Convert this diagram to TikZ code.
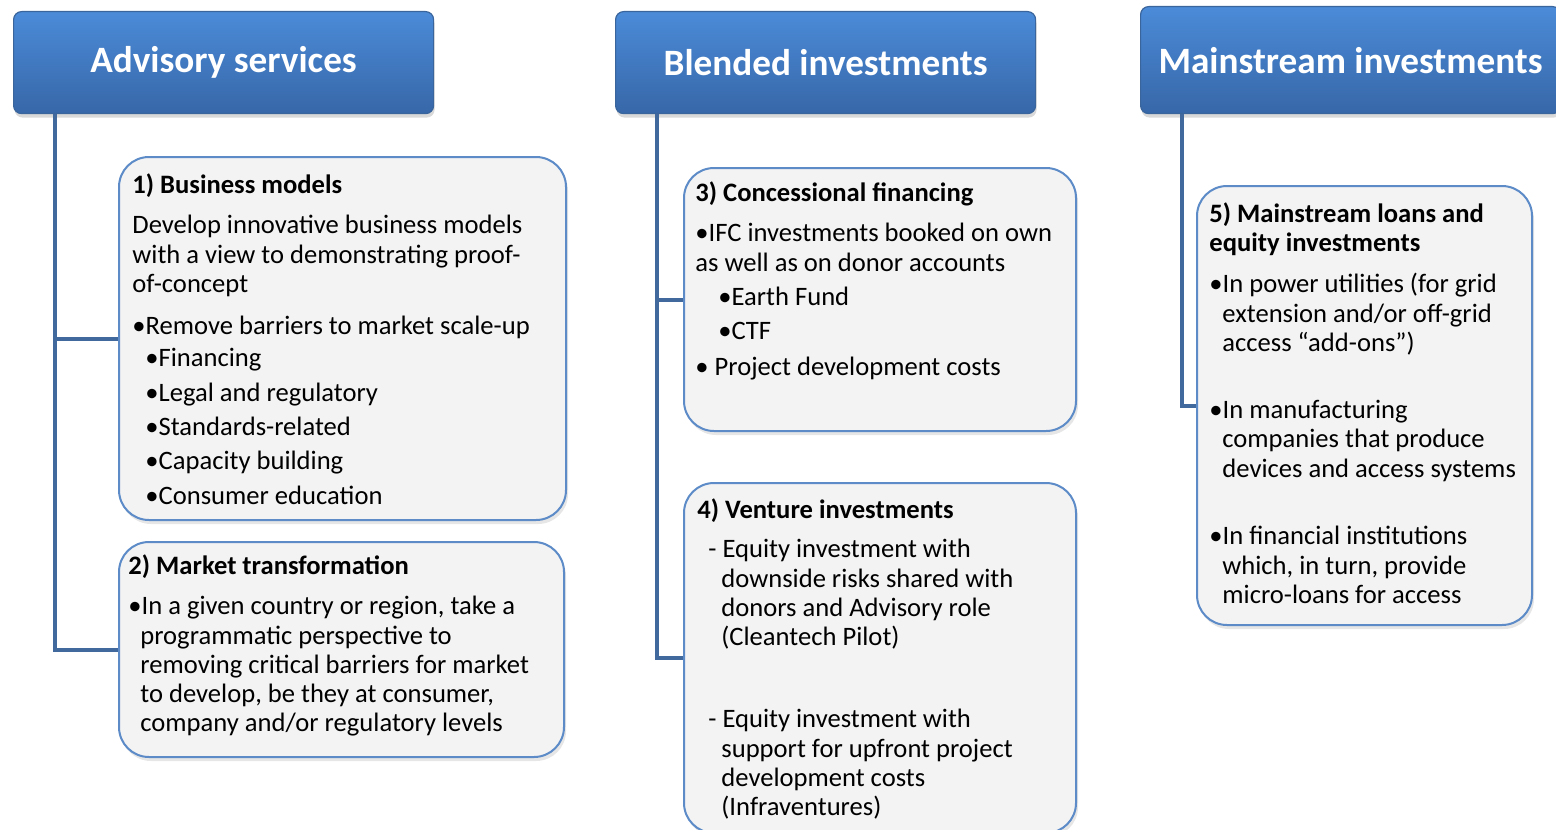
\documentclass[tikz,border=0pt]{standalone}
\usepackage{fontspec}
\setmainfont{Carlito}
\usetikzlibrary{positioning,shadows}

\definecolor{hdrtop}{HTML}{4B8BD8}
\definecolor{hdrbot}{HTML}{3767A8}
\definecolor{hdrline}{HTML}{3A659C}
\definecolor{trunkblue}{HTML}{41699E}
\definecolor{boxline}{HTML}{5C8BC8}
\definecolor{boxfill}{HTML}{F3F3F3}

\begin{document}
\begin{tikzpicture}[
    x=0.5pt, y=-0.5pt,
    header/.style={rectangle, rounded corners=4pt, draw=hdrline, line width=0.6pt, top color=hdrtop, bottom color=hdrbot, text=white, font=\fontsize{18.6}{22}\selectfont\bfseries, anchor=north west, minimum width=210pt, minimum height=51pt, drop shadow={shadow xshift=0.5pt, shadow yshift=-2pt, opacity=0.3}},
    subbox/.style={rectangle, rounded corners=15pt, draw=boxline, line width=1pt, fill=boxfill, anchor=north west, inner sep=0pt, drop shadow={shadow xshift=1pt, shadow yshift=-2pt, opacity=0.2}},
    txt/.style={anchor=north west, align=left, inner sep=0pt, font=\fontsize{13.3}{14.6}\selectfont, execute at begin node=\strut},
    ttl/.style={txt, font=\fontsize{13.3}{14.6}\selectfont\bfseries},
    trunk/.style={draw=trunkblue, line width=2pt}
]
\path[use as bounding box, clip] (0,0) rectangle (1556,829);
% Column headers
\node[header] (advisory) at (13,11) {Advisory services};
\node[header] (blended) at (615,11) {Blended investments};
\node[header, minimum height=53.5pt] (mainstream) at (1140,6) {Mainstream investments};
% Boxes under each header
\node[subbox, minimum width=223.5pt, minimum height=181.5pt] (bizmodels) at (118,156) {};
\node[subbox, minimum width=222.5pt, minimum height=107.5pt] (markettrans) at (118,541) {};
\node[subbox, minimum width=196pt, minimum height=131.5pt] (concessional) at (683,167) {};
\node[subbox, minimum width=196pt, minimum height=175pt] (venture) at (683,482) {};
\node[subbox, minimum width=167.5pt, minimum height=219.5pt] (mainloans) at (1196,185) {};
% Trunk lines
\draw[trunk] ([xshift=21pt]advisory.south west) |- (bizmodels.west);
\draw[trunk] ([xshift=21pt]advisory.south west) |- (markettrans.west);
\draw[trunk] ([xshift=21pt]blended.south west) |- (concessional.west);
\draw[trunk] ([xshift=21pt]blended.south west) |- (venture.west);
\draw[trunk] ([xshift=21pt]mainstream.south west) |- (mainloans.west);
% 1) Business models
\node[ttl] (bizmodels-t) at (132,173) {1) Business models};
\node[txt] (bizmodels-a) at (132,215) {Develop innovative business models\\with a view to demonstrating proof-\\of-concept};
\node[txt] (bizmodels-b) at (132,314) {•Remove barriers to market scale-up};
\node[txt] (bizmodels-c) at (145,348) {•Financing\\[2.6pt]•Legal and regulatory\\[2.6pt]•Standards-related\\[2.6pt]•Capacity building\\[2.6pt]•Consumer education};
% 2) Market transformation
\node[ttl] (markettrans-t) at (128,554) {2) Market transformation};
\node[txt] (markettrans-a) at (128,596) {•In a given country or region, take a\\\hspace*{6pt}programmatic perspective to\\\hspace*{6pt}removing critical barriers for market\\\hspace*{6pt}to develop, be they at consumer,\\\hspace*{6pt}company and/or regulatory levels};
% 3) Concessional financing
\node[ttl] (concessional-t) at (695,181) {3) Concessional financing};
\node[txt] (concessional-a) at (695,223) {•IFC investments booked on own\\as well as on donor accounts};
\node[txt] (concessional-b) at (718,287) {•Earth Fund\\[2pt]•CTF};
\node[txt] (concessional-c) at (695,355) {• Project development costs};
% 4) Venture investments
\node[ttl] (venture-t) at (697,498) {4) Venture investments};
\node[txt] (venture-a) at (708,539) {- Equity investment with\\\hspace*{6.5pt}downside risks shared with\\\hspace*{6.5pt}donors and Advisory role\\\hspace*{6.5pt}(Cleantech Pilot)};
\node[txt] (venture-b) at (708,709) {- Equity investment with\\\hspace*{6.5pt}support for upfront project\\\hspace*{6.5pt}development costs\\\hspace*{6.5pt}(Infraventures)};
% 5) Mainstream loans and equity
\node[ttl] (mainloans-t) at (1209,202) {5) Mainstream loans and\\equity investments};
\node[txt] (mainloans-a) at (1209,273) {•In power utilities (for grid\\\hspace*{6.5pt}extension and/or off-grid\\\hspace*{6.5pt}access “add-ons”)};
\node[txt] (mainloans-b) at (1209,400) {•In manufacturing\\\hspace*{6.5pt}companies that produce\\\hspace*{6.5pt}devices and access systems};
\node[txt] (mainloans-c) at (1209,526) {•In financial institutions\\\hspace*{6.5pt}which, in turn, provide\\\hspace*{6.5pt}micro-loans for access};
\end{tikzpicture}
\end{document}
